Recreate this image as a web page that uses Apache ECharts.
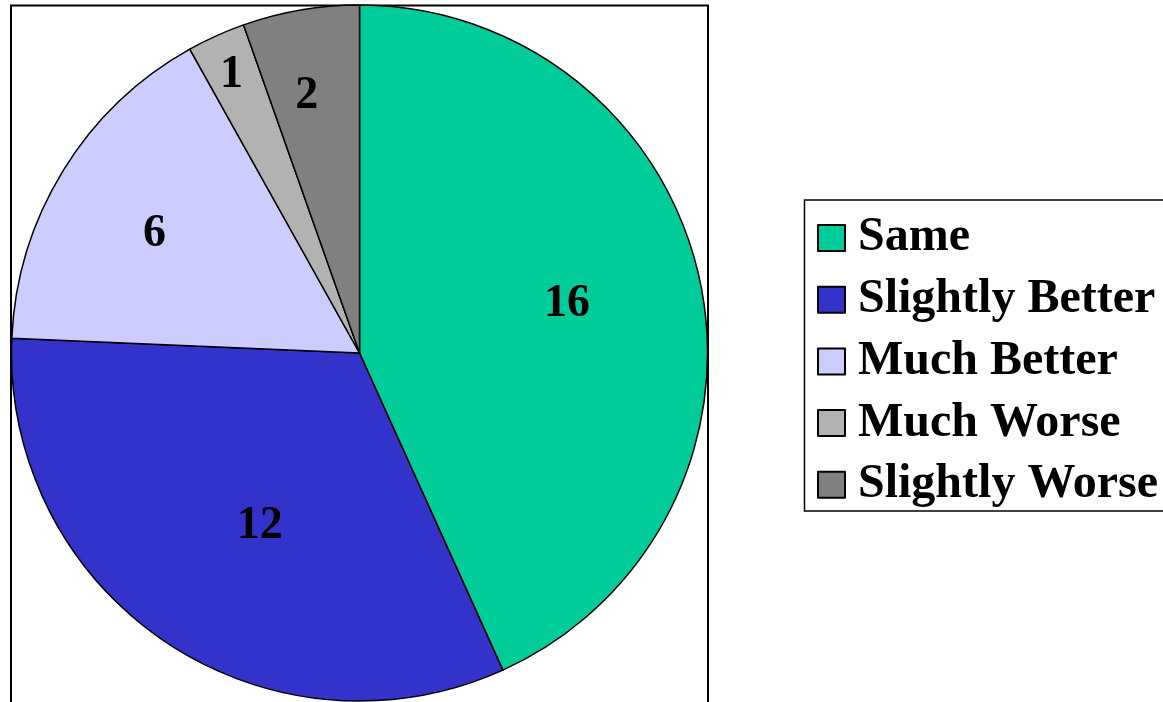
<!DOCTYPE html>
<html>
<head>
<meta charset="utf-8">
<script src="https://cdn.jsdelivr.net/npm/echarts@6/dist/echarts.min.js"></script>
<style>
  html, body { margin: 0; padding: 0; background: #fff; }
  #chart { width: 1163px; height: 702px; }
</style>
</head>
<body>
<div id="chart"></div>
<script>
var categories = ['Same', 'Slightly Better', 'Much Better', 'Much Worse', 'Slightly Worse'];
var values = [16, 12, 6, 1, 2];
var colors = ['#00CC99', '#3333CC', '#CCCCFF', '#B2B2B2', '#808080'];
// where each number sits: share of the radius, and turn (deg) from the slice's mid angle
var labelRadius = [0.604, 0.566, 0.672, 0.871, 0.745];
var labelTurn = [-1, -4.2, -1.6, -0.4, -1.9];

var R = 348;
var total = values.reduce(function (a, b) { return a + b; }, 0);

var acc = 0;
var pieData = categories.map(function (name, i) {
    // mid angle of the slice, clockwise from 12 o'clock
    var mid = (acc + values[i] / 2) / total * 2 * Math.PI;
    acc += values[i];
    var ang = mid + labelTurn[i] * Math.PI / 180;
    var r = labelRadius[i] * R;
    // ECharts puts an inside label at R/2 on the mid angle, so shift from there
    var dx = r * Math.sin(ang) - 0.5 * R * Math.sin(mid);
    var dy = -r * Math.cos(ang) + 0.5 * R * Math.cos(mid);
    return {
        name: name,
        value: values[i],
        itemStyle: { color: colors[i] },
        label: { offset: [dx, dy] }
    };
});

var myChart = echarts.init(document.getElementById('chart'));
var option = {
    backgroundColor: '#fff',
    animation: false,
    graphic: [{
        // plot area frame
        type: 'rect',
        z: -10,
        shape: { x: 11, y: 5.5, width: 697, height: 800 },
        style: { fill: 'none', stroke: '#000', lineWidth: 2 }
    }, {
        // legend frame
        type: 'rect',
        z: -10,
        shape: { x: 804.5, y: 200, width: 400, height: 311 },
        style: { fill: 'none', stroke: '#000', lineWidth: 1.5 }
    }],
    legend: {
        orient: 'vertical',
        left: 804,
        top: 214,
        padding: [0, 0, 0, 13],
        itemWidth: 27,
        itemHeight: 26,
        itemGap: 13.7,
        icon: 'rect',
        selectedMode: false,
        data: categories,
        textStyle: {
            fontFamily: 'Liberation Serif',
            fontWeight: 'bold',
            fontSize: 48,
            lineHeight: 48,
            color: '#000',
            padding: [0, 0, 0, 8]
        }
    },
    series: [{
        type: 'pie',
        center: [359.5, 353],
        radius: R,
        startAngle: 90,
        clockwise: true,
        avoidLabelOverlap: false,
        silent: true,
        itemStyle: { borderColor: '#000', borderWidth: 1.5 },
        label: {
            show: true,
            position: 'inside',
            formatter: '{c}',
            fontFamily: 'Liberation Serif',
            fontWeight: 'bold',
            fontSize: 46,
            color: '#000'
        },
        labelLine: { show: false },
        data: pieData
    }]
};
myChart.setOption(option);
</script>
</body>
</html>
